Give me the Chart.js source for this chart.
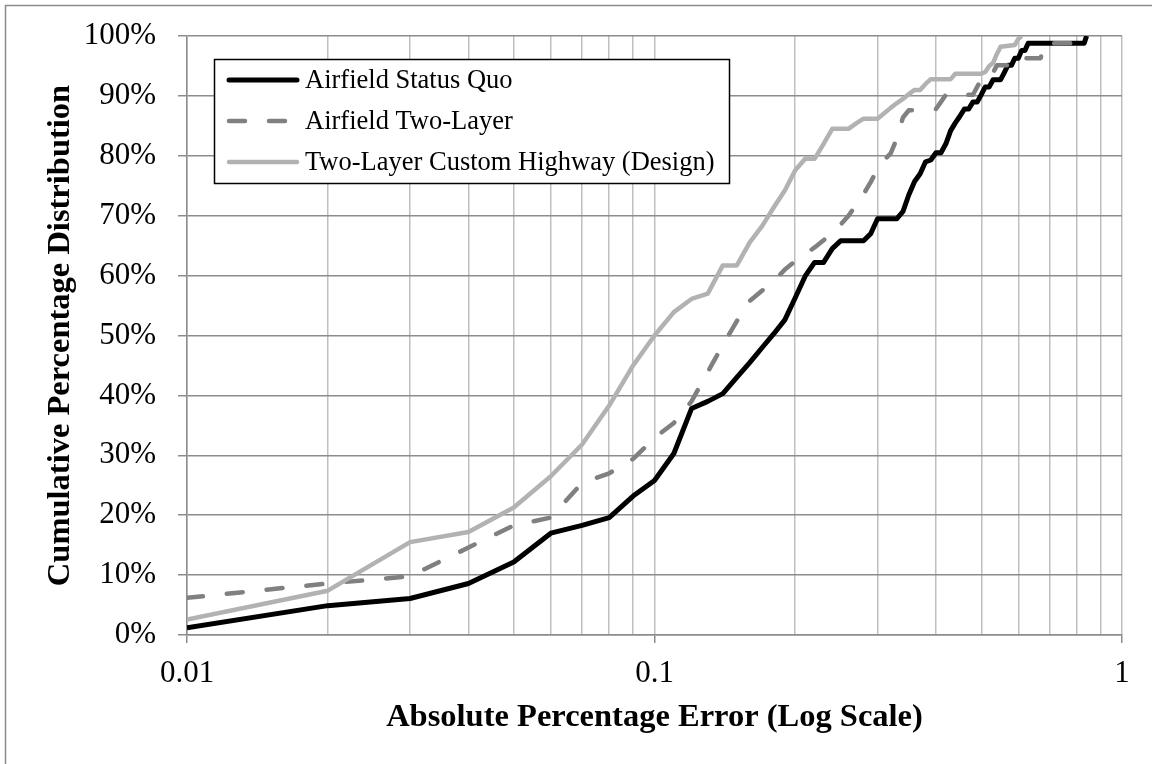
<!DOCTYPE html>
<html><head><meta charset="utf-8">
<script src="https://cdn.jsdelivr.net/npm/chart.js@4.4.1/dist/chart.umd.min.js"></script>
<style>html,body{margin:0;padding:0;background:#fff;overflow:hidden}#wrap{width:1152px;height:764px;position:relative}</style>
</head><body><div id="wrap"><canvas id="c" width="1152" height="764"></canvas></div>
<script>
const seriesNames = ['Airfield Status Quo', 'Airfield Two-Layer', 'Two-Layer Custom Highway (Design)'];

const statusQuoX = [0.01,0.02,0.03,0.04,0.05,0.06,0.07,0.08,0.09,0.10,0.11,0.12,0.13,0.14,0.15,0.16,0.17,0.18,0.19,0.20,0.21,0.22,0.23,0.24,0.25,0.28,0.29,0.30,0.33,0.34,0.35,0.36,0.37,0.38,0.39,0.40,0.41,0.42,0.43,0.44,0.45,0.46,0.47,0.48,0.49,0.50,0.51,0.52,0.53,0.55,0.56,0.57,0.58,0.59,0.60,0.61,0.62,0.63,0.83,0.84];
const statusQuoY = [1.2,4.9,6.1,8.6,12.2,17.0,18.3,19.6,23.2,25.8,30.3,37.8,39.0,40.3,43.0,45.5,48.0,50.3,52.6,56.3,59.9,62.2,62.2,64.5,65.8,65.8,67.0,69.5,69.5,70.7,73.5,75.7,77.0,79.0,79.3,80.5,80.5,82.0,84.2,85.5,86.6,87.8,87.8,89.0,89.0,90.2,91.5,91.5,92.7,92.7,93.9,95.1,95.1,96.3,96.3,97.6,97.6,98.8,98.8,100];

const twoLayerX = [0.01,0.02,0.03,0.04,0.05,0.06,0.07,0.08,0.09,0.10,0.11,0.12,0.13,0.14,0.15,0.16,0.17,0.18,0.19,0.20,0.21,0.22,0.23,0.24,0.25,0.26,0.27,0.28,0.29,0.30,0.31,0.32,0.33,0.34,0.35,0.40,0.41,0.42,0.48,0.49,0.50,0.51,0.53,0.54,0.58,0.59,0.67,0.68,0.78];
const twoLayerY = [6.2,8.6,9.8,14.6,18.3,19.6,25.4,27.0,29.4,32.9,35.4,39.0,43.9,48.4,52.4,55.8,57.5,59.1,61.0,62.4,63.6,64.7,65.9,67.2,68.5,70.0,71.8,73.6,75.6,77.8,79.3,80.4,82.9,86.4,87.6,87.8,89.0,90.2,90.2,91.5,92.7,93.9,93.9,95.1,95.1,96.3,96.3,98.8,98.8];

const highwayX = [0.01,0.02,0.03,0.04,0.05,0.06,0.07,0.08,0.09,0.10,0.11,0.12,0.13,0.14,0.15,0.16,0.17,0.18,0.19,0.20,0.21,0.22,0.23,0.24,0.26,0.27,0.28,0.30,0.31,0.32,0.33,0.34,0.35,0.36,0.37,0.38,0.39,0.43,0.44,0.50,0.51,0.52,0.53,0.54,0.55,0.59,0.60,0.61];
const highwayY = [2.6,7.4,15.5,17.2,21.3,26.5,31.8,38.3,45.0,50.0,53.9,56.1,57.0,61.7,61.7,65.6,68.3,71.4,74.2,77.6,79.5,79.5,82.0,84.5,84.5,85.4,86.2,86.2,87.1,88.0,88.8,89.5,90.3,91.0,91.0,92.0,92.8,92.8,93.7,93.7,94.0,95.0,95.5,97.0,98.2,98.5,99.5,100];

const xTickValues = [0.01,0.02,0.03,0.04,0.05,0.06,0.07,0.08,0.09,0.1,0.2,0.3,0.4,0.5,0.6,0.7,0.8,0.9,1];
const xLabelValues = [0.01, 0.1, 1];
const xTickLabels = ['0.01', '0.1', '1'];
const yTickValues = [0,10,20,30,40,50,60,70,80,90,100];

const toPoints = (xs, ys) => xs.map((x, i) => ({x: x, y: ys[i]}));

const FONT = 'Liberation Serif';

const framePlugin = {
  id: 'frame',
  beforeDraw(chart) {
    const c = chart.ctx;
    c.save();
    c.fillStyle = '#ffffff';
    c.fillRect(0, 0, chart.width, chart.height);
    c.strokeStyle = '#8c8c8c';
    c.lineWidth = 1.5;
    c.strokeRect(5.5, 5.5, 1400, 1000);
    c.restore();
  }
};

const boxLegend = {
  id: 'boxLegend',
  afterDraw(chart) {
    const c = chart.ctx;
    c.save();
    const L = 214, T = 59, R = 729, B = 183;
    c.fillStyle = '#fff';
    c.fillRect(L, T, R - L, B - T);
    c.strokeStyle = '#000';
    c.lineWidth = 1.5;
    c.strokeRect(L + 0.5, T + 0.5, R - L, B - T);
    chart.data.datasets.forEach((ds, i) => {
      const y = 80 + i * 41;
      c.beginPath();
      c.strokeStyle = ds.borderColor;
      c.lineWidth = ds.borderWidth;
      c.lineCap = 'round';
      c.setLineDash(ds.borderDash || []);
      c.moveTo(229, y);
      c.lineTo(297, y);
      c.stroke();
      c.setLineDash([]);
      c.fillStyle = '#000';
      c.font = '26.5px "' + FONT + '"';
      c.textBaseline = 'middle';
      c.textAlign = 'left';
      c.fillText(ds.label, 305, y + 1);
    });
    c.restore();
  }
};

new Chart(document.getElementById('c'), {
  type: 'line',
  data: {
    datasets: [
      {label: seriesNames[0], data: toPoints(statusQuoX, statusQuoY), borderColor: '#000000', borderWidth: 5, order: 2},
      {label: seriesNames[1], data: toPoints(twoLayerX, twoLayerY), borderColor: '#808080', borderWidth: 4.5, borderDash: [16, 24], borderCapStyle: 'round', order: 1},
      {label: seriesNames[2], data: toPoints(highwayX, highwayY), borderColor: '#b2b2b2', borderWidth: 4.5, order: 0}
    ]
  },
  options: {
    responsive: false,
    animation: false,
    devicePixelRatio: 1,
    layout: {padding: {top: 36, right: 30, left: 0, bottom: 0}},
    elements: {point: {radius: 0, hoverRadius: 0}, line: {tension: 0, borderJoinStyle: 'round', fill: false}},
    plugins: {legend: {display: false}, tooltip: {enabled: false}},
    scales: {
      x: {
        type: 'logarithmic', min: 0.01, max: 1,
        afterBuildTicks: s => { s.ticks = xTickValues.map(v => ({value: v, major: xLabelValues.includes(v)})); },
        afterFit: s => { s.height = 129; },
        ticks: {
          autoSkip: false, maxRotation: 0, minRotation: 0, padding: 12, color: '#000',
          font: {family: FONT, size: 31},
          callback: v => { const k = xLabelValues.indexOf(v); return k >= 0 ? xTickLabels[k] : ''; }
        },
        grid: {color: '#bfbfbf', lineWidth: 1.5, tickLength: 8, tickWidth: 1.5,
          tickColor: ctx => (ctx.tick && ctx.tick.major) ? '#8c8c8c' : 'rgba(0,0,0,0)'},
        border: {color: '#8c8c8c', width: 1.5},
        title: {display: true, text: 'Absolute Percentage Error (Log Scale)', color: '#000',
          font: {family: FONT, size: 32.5, weight: 'bold'}, padding: {top: 0, bottom: 27}}
      },
      y: {
        min: 0, max: 100,
        afterBuildTicks: s => { s.ticks = yTickValues.map(v => ({value: v})); },
        afterFit: s => { s.width = 187; s.paddingTop = 0; s.paddingBottom = 0; },
        ticks: {padding: 22, color: '#000', font: {family: FONT, size: 31}, callback: v => v + '%'},
        grid: {color: '#8c8c8c', lineWidth: 1.5, tickLength: 9, tickWidth: 1.5, tickColor: '#8c8c8c'},
        border: {color: '#8c8c8c', width: 1.5},
        title: {display: true, text: 'Cumulative Percentage Distribution', color: '#000',
          font: {family: FONT, size: 32.5, weight: 'bold'}, padding: {top: 41, bottom: 0}}
      }
    }
  },
  plugins: [framePlugin, boxLegend]
});
</script>
</body></html>
